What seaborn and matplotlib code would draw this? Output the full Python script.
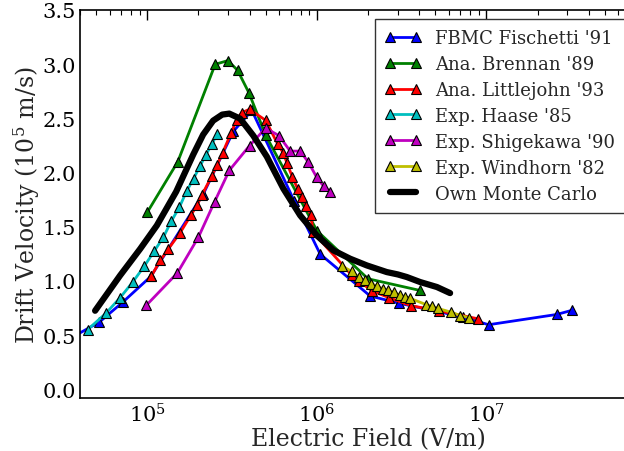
import numpy as np
import pandas as pd
import matplotlib
matplotlib.use("Agg")
import matplotlib.pyplot as plt
import seaborn as sns
from matplotlib.ticker import LogLocator, NullFormatter, MultipleLocator, FormatStrFormatter, FixedLocator

# ---- data ----
fischetti_x = [3.5e4, 5.21e4, 7.16e4, 1.047e5, 2.14e5, 3.21e5, 4.13e5, 7.36e5, 1.045e6,
               2.06e6, 3.06e6, 7.31e6, 1.028e7, 2.60e7, 3.19e7]
fischetti_y = [0.47, 0.621, 0.805, 1.042, 1.805, 2.380, 2.574, 1.734, 1.247,
               0.861, 0.794, 0.667, 0.596, 0.691, 0.729]

brennan_x = [1.0e5, 1.51e5, 2.51e5, 2.98e5, 3.40e5, 3.97e5, 4.98e5, 1.0e6, 2.0e6, 4.06e6]
brennan_y = [1.636, 2.10, 2.999, 3.033, 2.944, 2.735, 2.345, 1.463, 1.02, 0.912]

littlejohn_x = [1.052e5, 1.19e5, 1.33e5, 1.56e5, 1.80e5, 1.96e5, 2.09e5, 2.40e5, 2.58e5,
                2.78e5, 3.12e5, 3.36e5, 3.60e5, 4.0e5, 4.98e5, 5.86e5, 6.34e5, 6.64e5,
                7.16e5, 7.71e5, 8.14e5, 8.67e5, 9.24e5, 9.44e5, 1.61e6, 1.78e6, 2.11e6,
                2.67e6, 3.60e6, 5.23e6, 8.9e6]
littlejohn_y = [1.042, 1.189, 1.297, 1.445, 1.605, 1.697, 1.789, 1.971, 2.073,
                2.184, 2.368, 2.488, 2.553, 2.584, 2.482, 2.264, 2.179, 2.091,
                1.959, 1.847, 1.775, 1.694, 1.605, 1.452, 1.051, 0.997, 0.909,
                0.845, 0.771, 0.725, 0.651]

haase_x = [4.44e4, 5.69e4, 6.91e4, 8.19e4, 9.60e4, 1.098e5, 1.243e5, 1.38e5, 1.545e5,
           1.70e5, 1.87e5, 2.05e5, 2.21e5, 2.40e5, 2.57e5]
haase_y = [0.551, 0.702, 0.847, 0.990, 1.138, 1.277, 1.405, 1.549, 1.682,
           1.826, 1.944, 2.064, 2.163, 2.262, 2.355]

shigekawa_x = [9.83e4, 1.50e5, 2.00e5, 2.49e5, 3.04e5, 4.0e5, 4.98e5, 5.96e5, 6.95e5,
               7.96e5, 8.91e5, 9.94e5, 1.096e6, 1.197e6]
shigekawa_y = [0.774, 1.073, 1.405, 1.731, 2.020, 2.248, 2.410, 2.341, 2.198,
               2.198, 2.094, 1.959, 1.873, 1.824]

windhorn_x = [1.413e6, 1.606e6, 1.758e6, 1.925e6, 2.08e6, 2.26e6, 2.45e6, 2.64e6, 2.85e6,
              3.07e6, 3.31e6, 3.55e6, 4.40e6, 4.76e6, 5.18e6, 6.18e6, 7.0e6, 7.87e6]
windhorn_y = [1.134, 1.088, 1.036, 1.005, 0.974, 0.953, 0.928, 0.912, 0.894,
              0.871, 0.854, 0.839, 0.782, 0.766, 0.746, 0.712, 0.681, 0.662]

mc_x = [4.91e4, 6.9e4, 9.06e4, 1.136e5, 1.477e5, 1.862e5, 2.13e5, 2.44e5, 2.76e5, 3.04e5,
        3.52e5, 4.21e5, 5.06e5, 6.34e5, 7.96e5, 9.98e5, 1.25e6, 1.57e6, 1.97e6,
        2.58e6, 3.0e6, 3.39e6, 4.06e6, 5.1e6, 6.1e6]
mc_y = [0.725, 1.051, 1.296, 1.512, 1.824, 2.166, 2.350, 2.479, 2.535, 2.544,
        2.498, 2.341, 2.147, 1.851, 1.605, 1.420, 1.282, 1.205, 1.143,
        1.082, 1.06, 1.036, 0.990, 0.944, 0.888]

x_major_ticks = [1e5, 1e6, 1e7]

series = [
    ("FBMC Fischetti '91", fischetti_x, fischetti_y, "#0000FF"),
    ("Ana. Brennan '89", brennan_x, brennan_y, "#008000"),
    ("Ana. Littlejohn '93", littlejohn_x, littlejohn_y, "#FF0000"),
    ("Exp. Haase '85", haase_x, haase_y, "#00BFBF"),
    ("Exp. Shigekawa '90", shigekawa_x, shigekawa_y, "#BF00BF"),
    ("Exp. Windhorn '82", windhorn_x, windhorn_y, "#BFBF00"),
]

sns.set_style("white")
plt.rcParams["font.family"] = ["DejaVu Serif"]
plt.rcParams["mathtext.fontset"] = "dejavuserif"

fig = plt.figure(figsize=(6.24, 4.52), dpi=100)
ax = fig.add_axes([80 / 624, 1 - 399 / 452, 576 / 624, 388 / 452])

for name, xs, ys, col in series:
    df = pd.DataFrame({"x": xs, "y": ys})
    sns.lineplot(data=df, x="x", y="y", ax=ax, color=col, lw=2, marker="^",
                 markersize=7, markeredgecolor="black", markeredgewidth=0.8,
                 estimator=None, sort=False, label=name)

dmc = pd.DataFrame({"x": mc_x, "y": mc_y})
sns.lineplot(data=dmc, x="x", y="y", ax=ax, color="black", lw=4.5,
             estimator=None, sort=False, label="Own Monte Carlo")

ax.set_xscale("log")
ax.set_xlim(4e4, 1e8)
ax.set_ylim(-0.08, 3.5)
ax.yaxis.set_major_locator(MultipleLocator(0.5))
ax.yaxis.set_major_formatter(FormatStrFormatter("%.1f"))
ax.xaxis.set_major_locator(FixedLocator(x_major_ticks))
ax.xaxis.set_major_formatter(matplotlib.ticker.LogFormatterMathtext())
ax.xaxis.set_minor_locator(LogLocator(base=10, subs=np.arange(2, 10), numticks=20))
ax.xaxis.set_minor_formatter(NullFormatter())

ax.tick_params(axis="both", which="both", direction="in", top=True, right=True,
               labelsize=15, colors="black")
ax.tick_params(which="major", length=7, width=1)
ax.tick_params(which="minor", length=3.5, width=0.8)
ax.tick_params(axis="x", pad=3)
ax.tick_params(axis="y", pad=3)
for s in ax.spines.values():
    s.set_color("black")
    s.set_linewidth(1.2)

ax.set_xlabel("Electric Field (V/m)", fontsize=17, labelpad=1)
ax.set_ylabel("Drift Velocity (10$^5$ m/s)", fontsize=17, labelpad=0)

leg = ax.legend(loc="upper left", bbox_to_anchor=(375 / 624, 1 - 20 / 452),
                bbox_transform=fig.transFigure, borderaxespad=0, numpoints=2,
                fontsize=13, frameon=True, fancybox=False, framealpha=1,
                edgecolor="#333333", handlelength=2.0, borderpad=0.55,
                labelspacing=0.44)
leg.get_frame().set_linewidth(1.0)

fig.savefig("out.png", dpi=100)
